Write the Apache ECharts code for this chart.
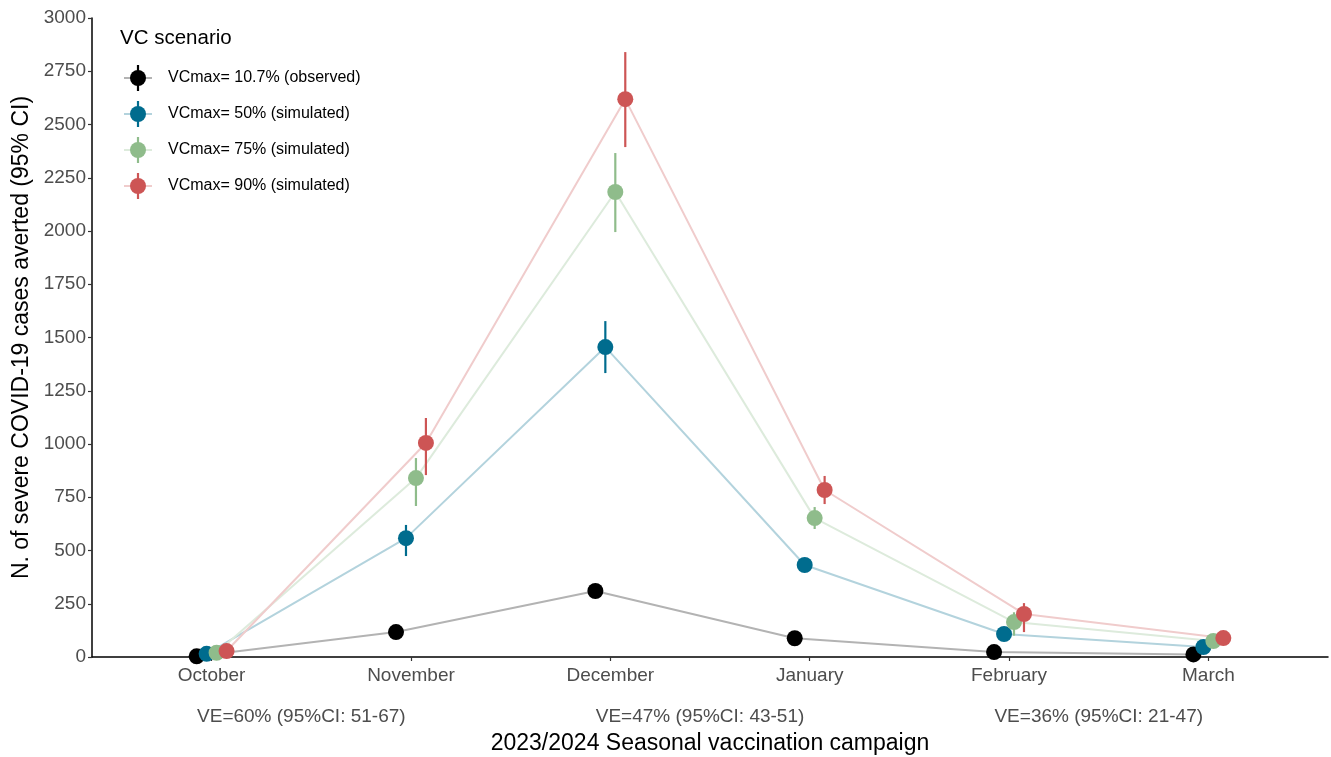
<!DOCTYPE html>
<html>
<head>
<meta charset="utf-8">
<script src="https://cdn.jsdelivr.net/npm/echarts@6/dist/echarts.min.js"></script>
<style>html,body{margin:0;padding:0;background:#fff;}#chart{width:1331px;height:757px;}</style>
</head>
<body>
<div id="chart"></div>
<script>
const months = ['October', 'November', 'December', 'January', 'February', 'March'];
const scenarios = ['VCmax= 10.7% (observed)', 'VCmax= 50% (simulated)', 'VCmax= 75% (simulated)', 'VCmax= 90% (simulated)'];
const colors = ['#000000', '#006C8E', '#8FBC8B', '#CD5555'];
const lineColors = ['#B3B3B3', '#B3D3DD', '#DDEBDC', '#F0CCCC'];

const obsMid  = [3, 117, 310, 88, 23, 12];
const obsLow  = [3, 117, 310, 88, 23, 12];
const obsHigh = [3, 117, 310, 88, 23, 12];

const vc50Mid  = [15, 558, 1455, 432, 108, 47];
const vc50Low  = [12, 474, 1333, 415, 75, 40];
const vc50High = [18, 620, 1577, 450, 140, 55];

const vc75Mid  = [20, 840, 2183, 652, 164, 75];
const vc75Low  = [16, 709, 1995, 601, 100, 65];
const vc75High = [25, 934, 2366, 704, 210, 85];

const vc90Mid  = [28, 1005, 2619, 784, 202, 89];
const vc90Low  = [22, 854, 2394, 718, 117, 80];
const vc90High = [35, 1122, 2840, 850, 253, 100];

const veLabels = ['VE=60% (95%CI: 51-67)', 'VE=47% (95%CI: 43-51)', 'VE=36% (95%CI: 21-47)'];
const vePos = [1.45, 3.45, 5.45];

const yTicks = [0, 250, 500, 750, 1000, 1250, 1500, 1750, 2000, 2250, 2500, 2750, 3000];

const mids = [obsMid, vc50Mid, vc75Mid, vc90Mid];
const lows = [obsLow, vc50Low, vc75Low, vc90Low];
const highs = [obsHigh, vc50High, vc75High, vc90High];
const dodge = [-0.075, -0.025, 0.025, 0.075];

const FONT = '"Liberation Sans", Arial, sans-serif';
const chart = echarts.init(document.getElementById('chart'), null, {renderer: 'canvas'});

const series = [];
scenarios.forEach((name, s) => {
  const pts = mids[s].map((v, i) => [i + 1 + dodge[s], v]);
  series.push({
    type: 'line', name: name + ' line', data: pts, symbol: 'none', z: 1,
    lineStyle: {color: lineColors[s], width: 2}, silent: true, animation: false
  });
});
scenarios.forEach((name, s) => {
  const eb = mids[s].map((v, i) => [i + 1 + dodge[s], lows[s][i], highs[s][i]]);
  series.push({
    type: 'custom', name: name + ' err', data: eb, z: 2, animation: false,
    renderItem: function (params, api) {
      const p1 = api.coord([api.value(0), api.value(1)]);
      const p2 = api.coord([api.value(0), api.value(2)]);
      return {type: 'line', shape: {x1: p1[0], y1: p1[1], x2: p2[0], y2: p2[1]},
              style: {stroke: colors[s], lineWidth: 2.2}};
    }
  });
});
scenarios.forEach((name, s) => {
  const pts = mids[s].map((v, i) => [i + 1 + dodge[s], v]);
  series.push({
    type: 'scatter', name: name, data: pts, symbol: 'circle', symbolSize: 16, z: 3,
    itemStyle: {color: colors[s], opacity: 1}, animation: false
  });
});

const tickVals = months.map((m, i) => i + 1);

const option = {
  animation: false,
  backgroundColor: '#ffffff',
  grid: {left: 92, right: 3, top: 18, bottom: 100, containLabel: false, outerBoundsMode: 'none'},
  xAxis: {
    type: 'value', min: 0.4, max: 6.6,
    name: '2023/2024 Seasonal vaccination campaign', nameLocation: 'middle', nameGap: 75,
    nameTextStyle: {fontFamily: FONT, fontSize: 23, color: '#000'},
    axisLine: {show: true, onZero: false, lineStyle: {color: '#000', width: 1.5}},
    axisTick: {show: true, customValues: tickVals, length: 4, lineStyle: {color: '#333', width: 1.2}},
    axisLabel: {customValues: tickVals, margin: 9, fontFamily: FONT, fontSize: 19, color: '#4D4D4D',
      formatter: v => months[Math.round(v) - 1] || ''},
    splitLine: {show: false}
  },
  yAxis: {
    type: 'value', min: 0, max: 3000, interval: 250,
    name: 'N. of severe COVID-19 cases averted (95% CI)', nameLocation: 'middle', nameGap: 58,
    nameTextStyle: {fontFamily: FONT, fontSize: 23, color: '#000'},
    axisLine: {show: true, lineStyle: {color: '#000', width: 1.5}},
    axisTick: {show: true, length: 4, lineStyle: {color: '#333', width: 1.2}},
    axisLabel: {margin: 6, fontFamily: FONT, fontSize: 19, color: '#4D4D4D',
      customValues: yTicks, formatter: v => String(v)},
    splitLine: {show: false}
  },
  series: series
};
chart.setOption(option);

// graphic: legend and VE annotations
const graphics = [];
graphics.push({type: 'text', x: 120, y: 38,
  style: {text: 'VC scenario', font: '20.5px ' + FONT, fill: '#000', verticalAlign: 'middle'}});
scenarios.forEach((name, s) => {
  const cy = 78 + s * 36;
  graphics.push({type: 'line', shape: {x1: 124, y1: cy, x2: 152, y2: cy}, style: {stroke: lineColors[s], lineWidth: 2}});
  graphics.push({type: 'line', shape: {x1: 138, y1: cy - 13, x2: 138, y2: cy + 13}, style: {stroke: colors[s], lineWidth: 2.2}});
  graphics.push({type: 'circle', shape: {cx: 138, cy: cy, r: 8}, style: {fill: colors[s]}});
  graphics.push({type: 'text', x: 168, y: cy, style: {text: name, font: '16px ' + FONT, fill: '#000', verticalAlign: 'middle'}});
});
veLabels.forEach((t, i) => {
  const px = chart.convertToPixel({xAxisIndex: 0}, vePos[i]);
  graphics.push({type: 'text', x: px, y: 717,
    style: {text: t, font: '19px ' + FONT, fill: '#4D4D4D', align: 'center', verticalAlign: 'middle'}});
});
chart.setOption({graphic: graphics});
</script>
</body>
</html>
